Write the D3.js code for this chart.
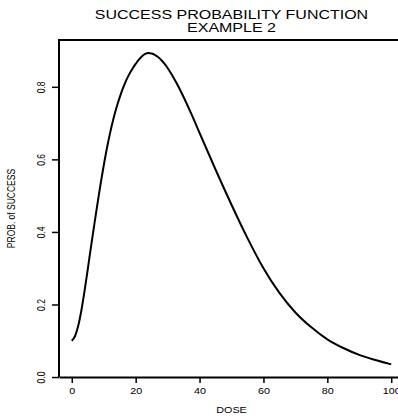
<!DOCTYPE html>
<html>
<head>
<meta charset="utf-8">
<script src="https://cdn.jsdelivr.net/npm/d3@7"></script>
<style>
  html, body { margin: 0; padding: 0; background: #fff; }
  svg { display: block; }
  text { font-family: "Liberation Sans", Arial, Helvetica, sans-serif; fill: #000; }
</style>
</head>
<body>
<svg id="chart" width="398" height="420"></svg>
<script>
// Success probability curve, sampled over dose
const dose = [0, 1, 2, 3, 4, 5, 6, 7, 8, 9, 10, 11, 12, 13, 14, 15, 16, 17, 18, 19, 20, 21, 22, 23, 24, 25, 26, 27, 28, 29, 30, 31, 32, 33, 34, 35, 37.5, 40, 45, 50, 55, 60, 65, 70, 75, 80, 85, 90, 95, 100];
const prob = [0.100, 0.1125, 0.1405, 0.1835, 0.2375, 0.297, 0.358, 0.4175, 0.4755, 0.531, 0.583, 0.6305, 0.673, 0.7105, 0.743, 0.771, 0.7955, 0.817, 0.835, 0.850, 0.863, 0.875, 0.8845, 0.891, 0.8935, 0.892, 0.888, 0.882, 0.874, 0.864, 0.852, 0.838, 0.823, 0.807, 0.790, 0.772, 0.724, 0.673, 0.572, 0.475, 0.383, 0.300, 0.232, 0.178, 0.137, 0.104, 0.080, 0.061, 0.047, 0.035];

const xTicks = [0, 20, 40, 60, 80, 100];
const yTicks = [0.0, 0.2, 0.4, 0.6, 0.8];

const titleLines = ["SUCCESS PROBABILITY FUNCTION", "EXAMPLE 2"];
const xTitle = "DOSE";
const yTitle = "PROB. of SUCCESS";

const stretch = 1.27; // horizontal glyph stretch

const svg = d3.select("#chart");
const mLeft = 59, mRight = 404, mTop = 40, mBottom = 390;

const x = d3.scaleLinear().domain([-4, 104]).range([mLeft, mRight]);
const y = d3.scaleLinear().domain([-0.0357, 0.929]).range([mBottom, mTop]);
const y0 = y(0);

// Frame: left side, top and right
svg.append("path")
  .attr("d", `M${mLeft},${y0}V${mTop}H${mRight}V${y0}`)
  .attr("fill", "none")
  .attr("stroke", "#000")
  .attr("stroke-width", 2);

// X axis drawn at prob = 0
const xAxis = svg.append("g")
  .attr("transform", `translate(0,${y0})`)
  .call(d3.axisBottom(x).tickValues(xTicks).tickFormat(d3.format("d")).tickSize(6).tickSizeOuter(0).tickPadding(4));
xAxis.select(".domain").attr("stroke-width", 2).attr("stroke", "#000");
xAxis.selectAll(".tick line").attr("stroke-width", 1.5).attr("stroke", "#000");
xAxis.selectAll(".tick text")
  .attr("font-size", 8.5)
  .attr("y", 0).attr("dy", 0)
  .attr("transform", `translate(0,17) scale(${stretch},1)`)
  .attr("font-family", "'Liberation Sans', Arial, sans-serif");

// Y axis ticks with labels running along the axis
const yAxis = svg.append("g")
  .attr("transform", `translate(${mLeft},0)`)
  .call(d3.axisLeft(y).tickValues(yTicks).tickFormat(d3.format(".1f")).tickSize(7).tickSizeOuter(0));
yAxis.select(".domain").remove();
yAxis.selectAll(".tick line").attr("stroke-width", 1.5).attr("stroke", "#000");
yAxis.selectAll(".tick text")
  .attr("font-size", 8.5)
  .attr("x", 0).attr("y", 0).attr("dy", "0.35em")
  .attr("text-anchor", "middle")
  .attr("transform", `translate(-18,0) scale(${stretch},1) rotate(-90)`)
  .attr("font-family", "'Liberation Sans', Arial, sans-serif");

// Curve
const line = d3.line()
  .x((d, i) => x(dose[i]))
  .y(d => y(d))
  .curve(d3.curveMonotoneX);
svg.append("path")
  .datum(prob)
  .attr("d", line)
  .attr("fill", "none")
  .attr("stroke", "#000")
  .attr("stroke-width", 2)
  .attr("stroke-linejoin", "round");

// Title
const cx = (mLeft + mRight) / 2;
titleLines.forEach((t, i) => {
  svg.append("text")
    .attr("transform", `translate(${cx},${18.5 + i * 13.8}) scale(${stretch},1)`)
    .attr("text-anchor", "middle")
    .attr("font-size", 12.6)
    .text(t);
});

// Axis titles
svg.append("text")
  .attr("transform", `translate(${cx},413) scale(${stretch},1)`)
  .attr("text-anchor", "middle")
  .attr("font-size", 8.5)
  .text(xTitle);

svg.append("text")
  .attr("transform", `translate(15,${(mTop + y0) / 2}) scale(${stretch},1) rotate(-90)`)
  .attr("text-anchor", "middle")
  .attr("font-size", 8.5)
  .text(yTitle);
</script>
</body>
</html>
